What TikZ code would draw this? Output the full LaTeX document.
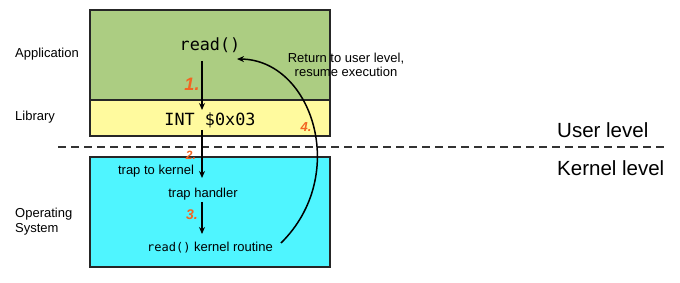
\documentclass[tikz,border=0pt]{standalone}
\usepackage{fontspec}
\setmainfont{Liberation Sans}
\setsansfont{Liberation Sans}
\setmonofont{DejaVu Sans Mono}
\usetikzlibrary{arrows.meta}
\definecolor{appgreen}{HTML}{ACCD82}
\definecolor{libyellow}{HTML}{FFFA9E}
\definecolor{oscyan}{HTML}{4FF5FF}
\definecolor{numorange}{HTML}{F26522}
\definecolor{dashgray}{HTML}{333333}
\tikzset{
  layerbox/.style={draw=black!85, line width=1.2pt, anchor=north west, minimum width=240pt, inner sep=0pt, outer sep=0pt},
  sidelabel/.style={anchor=west, font=\fontsize{13}{15}\selectfont, align=left, inner sep=0pt},
  small/.style={font=\fontsize{13}{14.5}\selectfont, inner sep=0pt},
  codebig/.style={font=\ttfamily\fontsize{16.8}{18}\selectfont, inner sep=0pt},
  num/.style={font=\sffamily\bfseries\itshape, text=numorange, inner sep=0pt},
  levellabel/.style={anchor=west, font=\fontsize{20.5}{22}\selectfont, inner sep=0pt},
  arr/.style={-{Stealth[length=7pt,width=6pt]}, line width=1.5pt},
}
\begin{document}
\begin{tikzpicture}[x=1pt,y=-1pt]
\useasboundingbox (0,0) rectangle (680,283);
% layers
\node[layerbox, fill=appgreen, minimum height=90pt] (app) at (90,10) {};
\node[layerbox, fill=libyellow, minimum height=36pt] (lib) at (90,100) {};
\node[layerbox, fill=oscyan, minimum height=110pt] (os) at (90,157) {};
% dashed divider
\coordinate (dl) at (58,147);
\coordinate (dr) at (668,147);
\draw[dashgray, line width=1.8pt, dash pattern=on 8pt off 5pt] (dl) -- (dr);
% side labels
\node[sidelabel] (lapp) at (15,54) {Application};
\node[sidelabel] (llib) at (15,117) {Library};
\node[sidelabel] (los) at (15,222) {Operating\\System};
\node[levellabel] (user) at (557,130) {User level};
\node[levellabel] (kern) at (557,168) {Kernel level};
% texts
\node[codebig] (read) at (210,45) {read()};
\node[codebig] (int) at (210,120) {INT \$0x03};
\node[small] (trap) at (156,171) {trap to kernel};
\node[small] (handler) at (203,194) {trap handler};
\node[small] (routine) at (210,248) {{\ttfamily\fontsize{12}{13}\selectfont read()} kernel routine};
\node[small, align=center] (ret) at (346,65) {Return to user level,\\resume execution};
% numbers
\node[num, font=\sffamily\bfseries\itshape\fontsize{18}{18}\selectfont] (n1) at (192,84) {1.};
\node[num, font=\sffamily\bfseries\itshape\fontsize{12}{12}\selectfont] (n2) at (191,155.5) {2.};
\node[num, font=\sffamily\bfseries\itshape\fontsize{14}{14}\selectfont] (n3) at (192,215) {3.};
\node[num, font=\sffamily\bfseries\itshape\fontsize{13}{13}\selectfont] (n4) at (306,127) {4.};
% arrows
\coordinate (a1s) at (202,61);
\coordinate (a1e) at (202,110);
\coordinate (a2s) at (202,130);
\coordinate (a2e) at (202,178);
\coordinate (a3s) at (202,202);
\coordinate (a3e) at (202,234);
\coordinate (rs) at (281,243);
\coordinate (re) at (237,59);
\draw[arr] (a1s) -- (a1e);
\draw[arr] (a2s) -- (a2e);
\draw[arr] (a3s) -- (a3e);
\draw[arr] (rs) .. controls (350,175) and (312,60) .. (re);
\end{tikzpicture}
\end{document}
